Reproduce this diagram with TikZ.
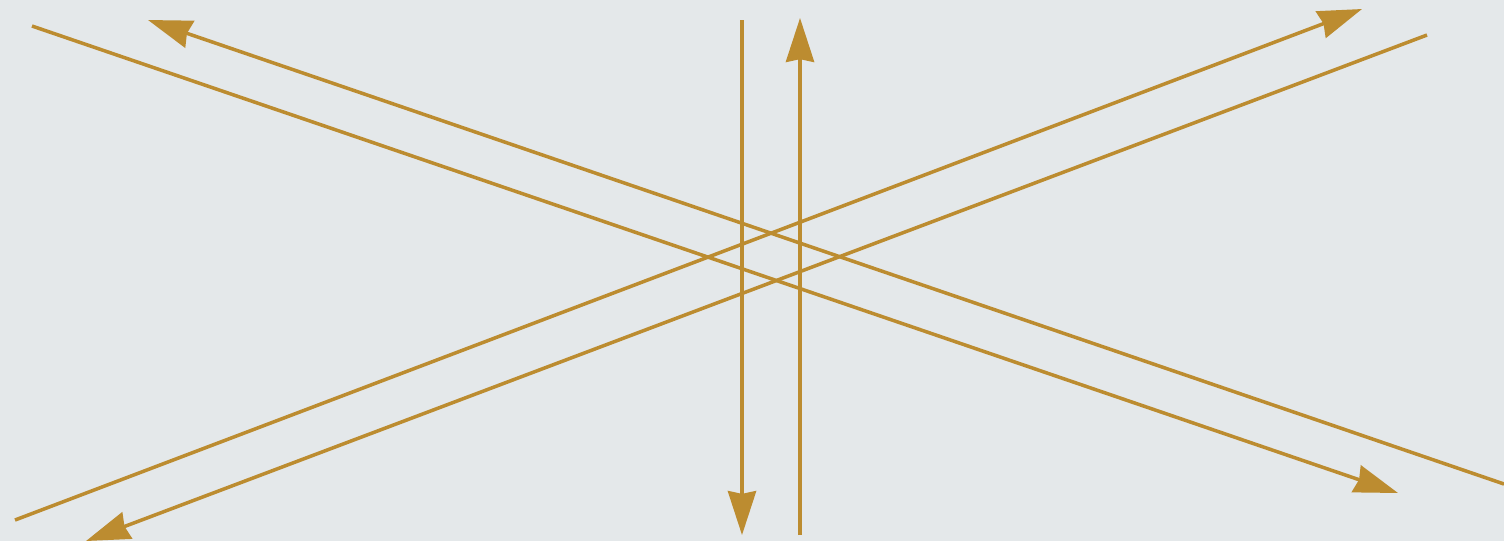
\documentclass[tikz,border=0pt]{standalone}
\usetikzlibrary{arrows.meta}
\definecolor{bg}{RGB}{228,232,234}
\definecolor{gold}{RGB}{188,140,48}
\begin{document}
\begin{tikzpicture}[x=0.01cm,y=-0.01cm,
  ray/.style={draw=gold,line width=1pt},
  arr/.style={ray,-{Stealth[length=12.5pt,width=8pt,inset=0.8pt]}}]
\fill[bg] (0,0) rectangle (1504,541);
\useasboundingbox (0,0) rectangle (1504,541);
% descending pair
\coordinate (a1) at (32,26);
\coordinate (a2) at (1398,493);
\coordinate (b1) at (1504,484);
\coordinate (b2) at (148,20);
% ascending pair
\coordinate (c1) at (15,520);
\coordinate (c2) at (1362,9);
\coordinate (d1) at (1427,35);
\coordinate (d2) at (86,541);
% verticals
\coordinate (e1) at (742,20);
\coordinate (e2) at (742,535);
\coordinate (f1) at (800,535);
\coordinate (f2) at (800,18);
\draw[arr] (a1) -- (a2);
\draw[arr] (b1) -- (b2);
\draw[arr] (c1) -- (c2);
\draw[arr] (d1) -- (d2);
\draw[arr] (e1) -- (e2);
\draw[arr] (f1) -- (f2);
\end{tikzpicture}
\end{document}
